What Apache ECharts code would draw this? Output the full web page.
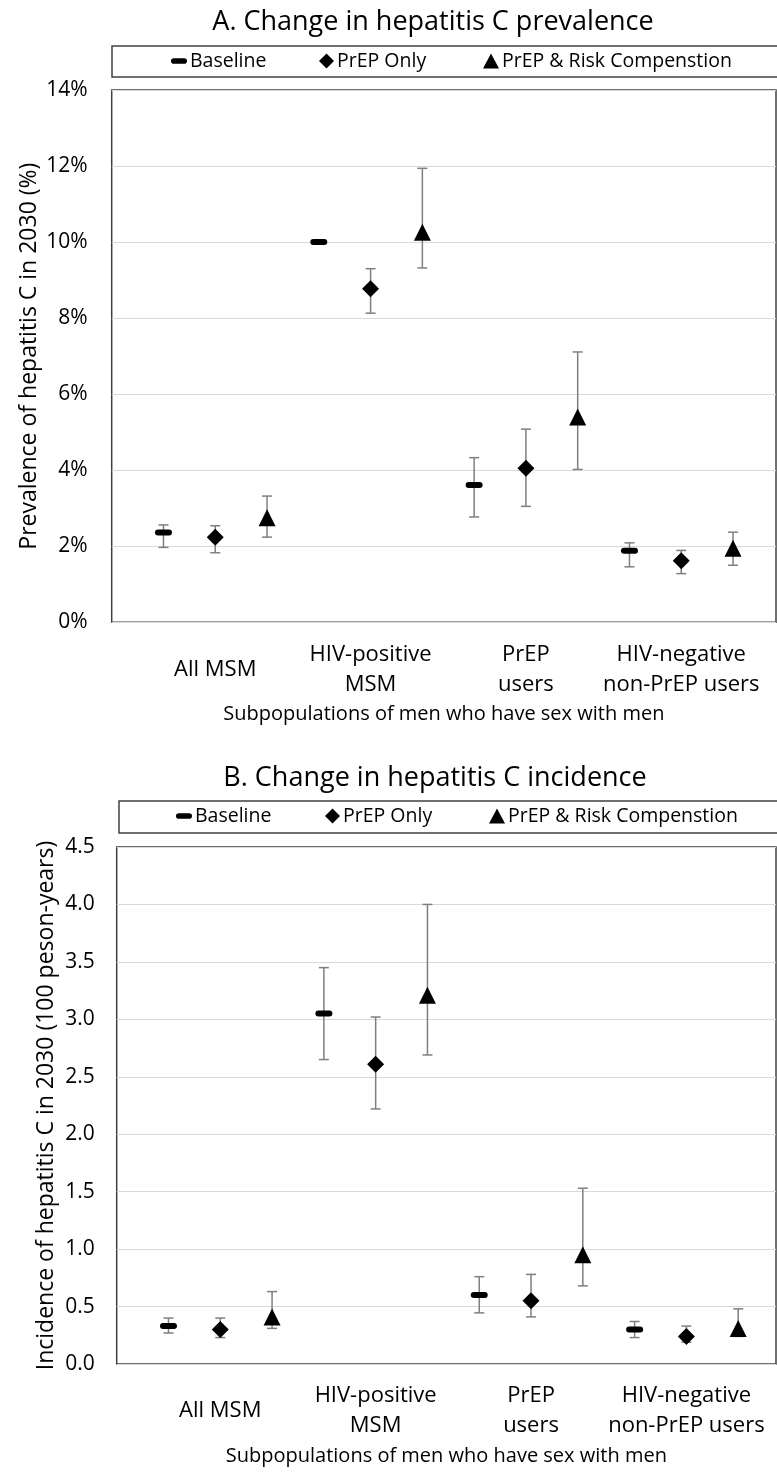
<!DOCTYPE html>
<html>
<head>
<meta charset="utf-8">
<script src="https://cdn.jsdelivr.net/npm/echarts@6/dist/echarts.min.js"></script>
<style>
  html, body { margin: 0; padding: 0; background: #fff; }
  #chart { width: 777px; height: 1478px; }
</style>
</head>
<body>
<div id="chart"></div>
<script>
// Subpopulations (x-axis groups) and modelled scenarios
const groups = ['All MSM', 'HIV-positive\nMSM', 'PrEP\nusers', 'HIV-negative\nnon-PrEP users'];
const scenarios = ['Baseline', 'PrEP Only', 'PrEP & Risk Compenstion'];

// A. Prevalence of hepatitis C in 2030 (%): point estimate, lower and upper bound
const prevBaseline   = [2.36, 10.00, 3.61, 1.88];
const prevBaselineLo = [1.97, 10.00, 2.77, 1.46];
const prevBaselineHi = [2.56, 10.00, 4.33, 2.09];
const prevPrep       = [2.24, 8.77, 4.05, 1.62];
const prevPrepLo     = [1.83, 8.13, 3.05, 1.28];
const prevPrepHi     = [2.54, 9.30, 5.08, 1.89];
const prevRisk       = [2.75, 10.26, 5.40, 1.95];
const prevRiskLo     = [2.24, 9.32, 4.02, 1.50];
const prevRiskHi     = [3.32, 11.94, 7.11, 2.37];

// B. Incidence of hepatitis C in 2030 (per 100 person-years)
const incBaseline   = [0.33, 3.05, 0.60, 0.30];
const incBaselineLo = [0.27, 2.65, 0.445, 0.23];
const incBaselineHi = [0.40, 3.45, 0.76, 0.37];
const incPrep       = [0.30, 2.61, 0.55, 0.24];
const incPrepLo     = [0.23, 2.22, 0.41, 0.19];
const incPrepHi     = [0.40, 3.02, 0.78, 0.33];
const incRisk       = [0.41, 3.21, 0.95, 0.31];
const incRiskLo     = [0.31, 2.69, 0.68, 0.24];
const incRiskHi     = [0.63, 4.00, 1.53, 0.48];

// Y-axis tick settings
const prevTicks = { min: 0, max: 14, interval: 2 };
const incTicks  = { min: 0, max: 4.5, interval: 0.5 };

const FONT = "'Open Sans', 'Noto Sans', sans-serif";
const PILL = 'path://M3,0 L14,0 A3,3 0 0 1 14,6 L3,6 A3,3 0 0 1 3,0 Z';
const symbols = [PILL, 'diamond', 'triangle'];
const symbolSizes = [[17, 6], 17, 17];
const ERR_COLOR = '#7f7f7f';

// Each group occupies three slots on the x axis; the group label sits under the middle one
const slot = (gi, si) => gi * 3 + si + 1;

function points(values, si) {
  return values.map((v, gi) => [slot(gi, si), v]);
}
function ranges(lo, hi, si) {
  return lo.map((l, gi) => [slot(gi, si), l, hi[gi]]);
}

function errorBar(params, api) {
  const x = api.value(0);
  const top = api.coord([x, api.value(2)]);
  const bot = api.coord([x, api.value(1)]);
  const half = 5;
  const style = { stroke: ERR_COLOR, lineWidth: 1.5 };
  return {
    type: 'group',
    children: [
      { type: 'line', shape: { x1: top[0], y1: top[1], x2: bot[0], y2: bot[1] }, style },
      { type: 'line', shape: { x1: top[0] - half, y1: top[1], x2: top[0] + half, y2: top[1] }, style },
      { type: 'line', shape: { x1: bot[0] - half, y1: bot[1], x2: bot[0] + half, y2: bot[1] }, style }
    ]
  };
}

const panels = [
  {
    est: [prevBaseline, prevPrep, prevRisk],
    lo: [prevBaselineLo, prevPrepLo, prevRiskLo],
    hi: [prevBaselineHi, prevPrepHi, prevRiskHi]
  },
  {
    est: [incBaseline, incPrep, incRisk],
    lo: [incBaselineLo, incPrepLo, incRiskLo],
    hi: [incBaselineHi, incPrepHi, incRiskHi]
  }
];

const series = [];
panels.forEach((p, pi) => {
  scenarios.forEach((name, si) => {
    series.push({
      type: 'scatter',
      name,
      xAxisIndex: pi,
      yAxisIndex: pi,
      symbol: symbols[si],
      symbolSize: symbolSizes[si],
      itemStyle: { color: '#000', opacity: 1 },
      data: points(p.est[si], si),
      z: 3
    });
    series.push({
      type: 'custom',
      name,
      xAxisIndex: pi,
      yAxisIndex: pi,
      renderItem: errorBar,
      encode: { x: 0, y: [1, 2] },
      itemStyle: { color: '#000' },
      data: ranges(p.lo[si], p.hi[si], si),
      z: 2,
      silent: true
    });
  });
});

const gridStyle = { show: true, borderColor: '#404040', borderWidth: 1.5, backgroundColor: '#fff' };
const grids = [
  Object.assign({ left: 111.7, top: 90, right: 1, height: 532.3 }, gridStyle),
  Object.assign({ left: 116.7, top: 847, right: 1, height: 517 }, gridStyle)
];
const xMax = [12.83, 12.73];

const xAxes = grids.map((g, i) => ({
  type: 'value',
  gridIndex: i,
  min: 0,
  max: xMax[i],
  axisLine: { show: false },
  axisTick: { show: false },
  splitLine: { show: false },
  axisLabel: {
    customValues: [2, 5, 8, 11],
    formatter: v => groups[Math.round((v - 2) / 3)],
    fontFamily: FONT,
    fontSize: 22,
    color: '#000',
    lineHeight: 30,
    verticalAlign: 'middle',
    margin: 47
  },
  name: 'Subpopulations of men who have sex with men',
  nameLocation: 'middle',
  nameGap: 82,
  nameMoveOverlap: false,
  nameTextStyle: { fontFamily: FONT, fontSize: 20, color: '#000' }
}));

const yAxes = [
  {
    type: 'value', gridIndex: 0,
    min: prevTicks.min, max: prevTicks.max, interval: prevTicks.interval,
    axisLine: { show: false }, axisTick: { show: false },
    splitLine: { lineStyle: { color: '#d9d9d9', width: 1.2 } },
    axisLabel: { formatter: v => v + '%', fontFamily: FONT, fontSize: 21, color: '#000', margin: 24 },
    name: 'Prevalence of hepatitis C in 2030 (%)',
    nameLocation: 'middle', nameGap: 71, nameMoveOverlap: false,
    nameTextStyle: { fontFamily: FONT, fontSize: 23, color: '#000' }
  },
  {
    type: 'value', gridIndex: 1,
    min: incTicks.min, max: incTicks.max, interval: incTicks.interval,
    axisLine: { show: false }, axisTick: { show: false },
    splitLine: { lineStyle: { color: '#d9d9d9', width: 1.2 } },
    axisLabel: { formatter: v => v.toFixed(1), fontFamily: FONT, fontSize: 21, color: '#000', margin: 22 },
    name: 'Incidence of hepatitis C in 2030 (100 peson-years)',
    nameLocation: 'middle', nameGap: 59, nameMoveOverlap: false,
    nameTextStyle: { fontFamily: FONT, fontSize: 23, color: '#000' }
  }
];

// One legend component per scenario and panel, laid out inside a framed strip
const legendLeft = [[171, 319, 483], [176, 325, 489]];
const legendTop = [51, 806];
const legendIconSize = [[16, 7], [15, 15], [16, 15]];
const legends = [];
[0, 1].forEach(pi => {
  scenarios.forEach((name, si) => {
    legends.push({
      data: [{ name, icon: symbols[si] }],
      left: legendLeft[pi][si],
      top: legendTop[pi],
      padding: 0,
      itemWidth: legendIconSize[si][0],
      itemHeight: legendIconSize[si][1],
      itemStyle: { color: '#000', opacity: 1 },
      textStyle: { fontFamily: FONT, fontSize: 19.5, color: '#000', padding: [0, 0, 0, -2] },
      selectedMode: true
    });
  });
});

const chart = echarts.init(document.getElementById('chart'), null, { renderer: 'canvas' });
chart.setOption({
  backgroundColor: '#fff',
  animation: false,
  graphic: [
    { type: 'text', x: 433, y: 22, style: { text: 'A. Change in hepatitis C prevalence', font: '27px ' + FONT, fill: '#000', align: 'center', verticalAlign: 'middle' } },
    { type: 'rect', shape: { x: 112, y: 46, width: 670, height: 31 }, style: { fill: 'none', stroke: '#404040', lineWidth: 1.5 } },
    { type: 'text', x: 435, y: 778, style: { text: 'B. Change in hepatitis C incidence', font: '27px ' + FONT, fill: '#000', align: 'center', verticalAlign: 'middle' } },
    { type: 'rect', shape: { x: 119, y: 801, width: 670, height: 32 }, style: { fill: 'none', stroke: '#404040', lineWidth: 1.5 } }
  ],
  legend: legends,
  grid: grids,
  xAxis: xAxes,
  yAxis: yAxes,
  series
});
</script>
</body>
</html>
